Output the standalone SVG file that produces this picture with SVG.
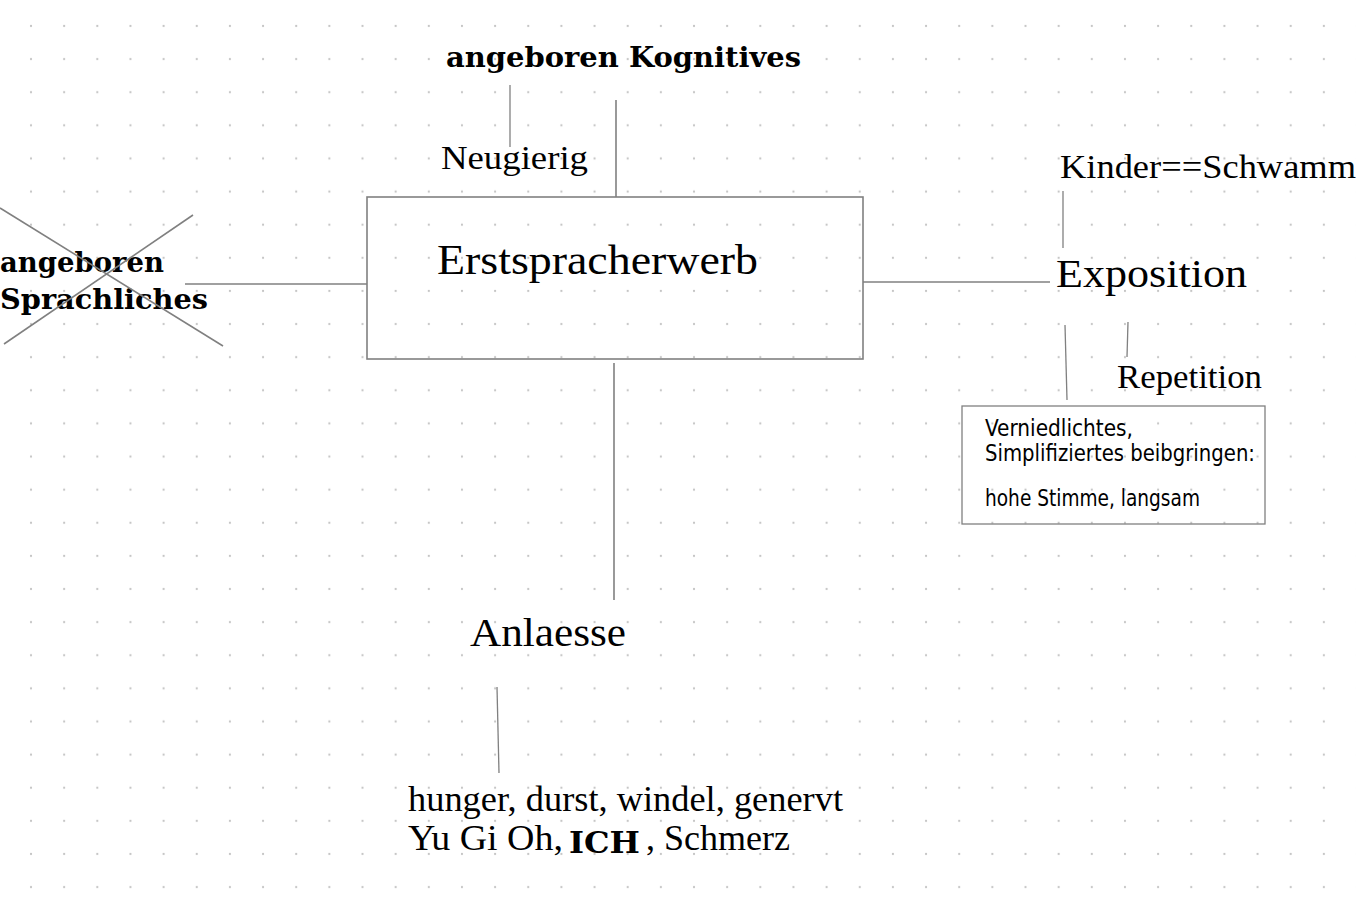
<svg xmlns="http://www.w3.org/2000/svg" width="1356" height="907" viewBox="0 0 1356 907">
<defs>
<pattern id="dots" patternUnits="userSpaceOnUse" x="14.43" y="9.44" width="33.15" height="33.12">
<circle cx="16.575" cy="16.56" r="1.1" fill="#c4c4c4"/>
</pattern>
</defs>
<style>
.serif{font-family:"Liberation Serif","Times New Roman",serif;fill:#000}
.bold{font-family:"DejaVu Serif","Liberation Serif",serif;font-weight:bold;fill:#000}
.cond{font-family:"DejaVu Sans Condensed","DejaVu Sans","Liberation Sans",sans-serif;font-stretch:condensed;fill:#000}
.ln{stroke:#808080;stroke-width:1.6;fill:none}
.thin{stroke:#808080;stroke-width:1.3;fill:none}
</style>
<rect width="1356" height="907" fill="#fff"/>
<rect width="1356" height="907" fill="url(#dots)"/>

<g id="connectors">
<line class="ln" x1="185" y1="284" x2="367" y2="284"/>
<line class="ln" x1="616" y1="100" x2="616" y2="197"/>
<line class="thin" x1="510" y1="85" x2="510" y2="147"/>
<line class="ln" x1="614" y1="363" x2="614" y2="600"/>
<line class="ln" x1="863" y1="282" x2="1050" y2="282"/>
<line class="thin" x1="1063" y1="191" x2="1063" y2="248"/>
<line class="thin" x1="1065" y1="325" x2="1067" y2="400"/>
<line class="thin" x1="1128" y1="322" x2="1127" y2="357"/>
<line class="thin" x1="497" y1="687" x2="499" y2="773"/>
</g>

<g id="node-erstspracherwerb">
<rect class="ln" x="367" y="197" width="496" height="162"/>
<text class="serif" x="437" y="274" font-size="43" textLength="321" lengthAdjust="spacingAndGlyphs">Erstspracherwerb</text>
</g>

<g id="node-kognitives">
<text class="bold" x="446" y="67" font-size="27" textLength="355" lengthAdjust="spacingAndGlyphs">angeboren Kognitives</text>
</g>

<g id="node-neugierig">
<text class="serif" x="441" y="169" font-size="34" textLength="147" lengthAdjust="spacingAndGlyphs">Neugierig</text>
</g>

<g id="node-sprachliches">
<text class="bold" x="0" y="272" font-size="27" textLength="164" lengthAdjust="spacingAndGlyphs">angeboren</text>
<text class="bold" x="0" y="309" font-size="27" textLength="208" lengthAdjust="spacingAndGlyphs">Sprachliches</text>
<line class="ln" x1="0" y1="208" x2="223" y2="346"/>
<line class="ln" x1="193" y1="215" x2="4" y2="344"/>
</g>

<g id="node-exposition">
<text class="serif" x="1056" y="287" font-size="40" textLength="191" lengthAdjust="spacingAndGlyphs">Exposition</text>
</g>

<g id="node-kinder">
<text class="serif" x="1060" y="178" font-size="34" textLength="296" lengthAdjust="spacingAndGlyphs">Kinder==Schwamm</text>
</g>

<g id="node-repetition">
<text class="serif" x="1117" y="388" font-size="34" textLength="145" lengthAdjust="spacingAndGlyphs">Repetition</text>
</g>

<g id="node-verniedlichtes">
<rect class="thin" x="962" y="406" width="303" height="118"/>
<text class="cond" x="985" y="436" font-size="23" textLength="148" lengthAdjust="spacingAndGlyphs">Verniedlichtes,</text>
<text class="cond" x="985" y="461" font-size="23" textLength="270" lengthAdjust="spacingAndGlyphs">Simplifiziertes beibgringen:</text>
<text class="cond" x="985" y="506" font-size="23" textLength="215" lengthAdjust="spacingAndGlyphs">hohe Stimme, langsam</text>
</g>

<g id="node-anlaesse">
<text class="serif" x="470" y="646" font-size="40" textLength="156" lengthAdjust="spacingAndGlyphs">Anlaesse</text>
</g>

<g id="node-gruende">
<text class="serif" x="408" y="811" font-size="35" textLength="435" lengthAdjust="spacingAndGlyphs">hunger, durst, windel, genervt</text>
<text class="serif" x="408" y="850" font-size="35" textLength="155" lengthAdjust="spacingAndGlyphs">Yu Gi Oh,</text>
<text class="bold" x="569" y="853" font-size="29" textLength="71" lengthAdjust="spacingAndGlyphs">ICH</text>
<text class="serif" x="646" y="850" font-size="35" textLength="144" lengthAdjust="spacingAndGlyphs">, Schmerz</text>
</g>
</svg>
